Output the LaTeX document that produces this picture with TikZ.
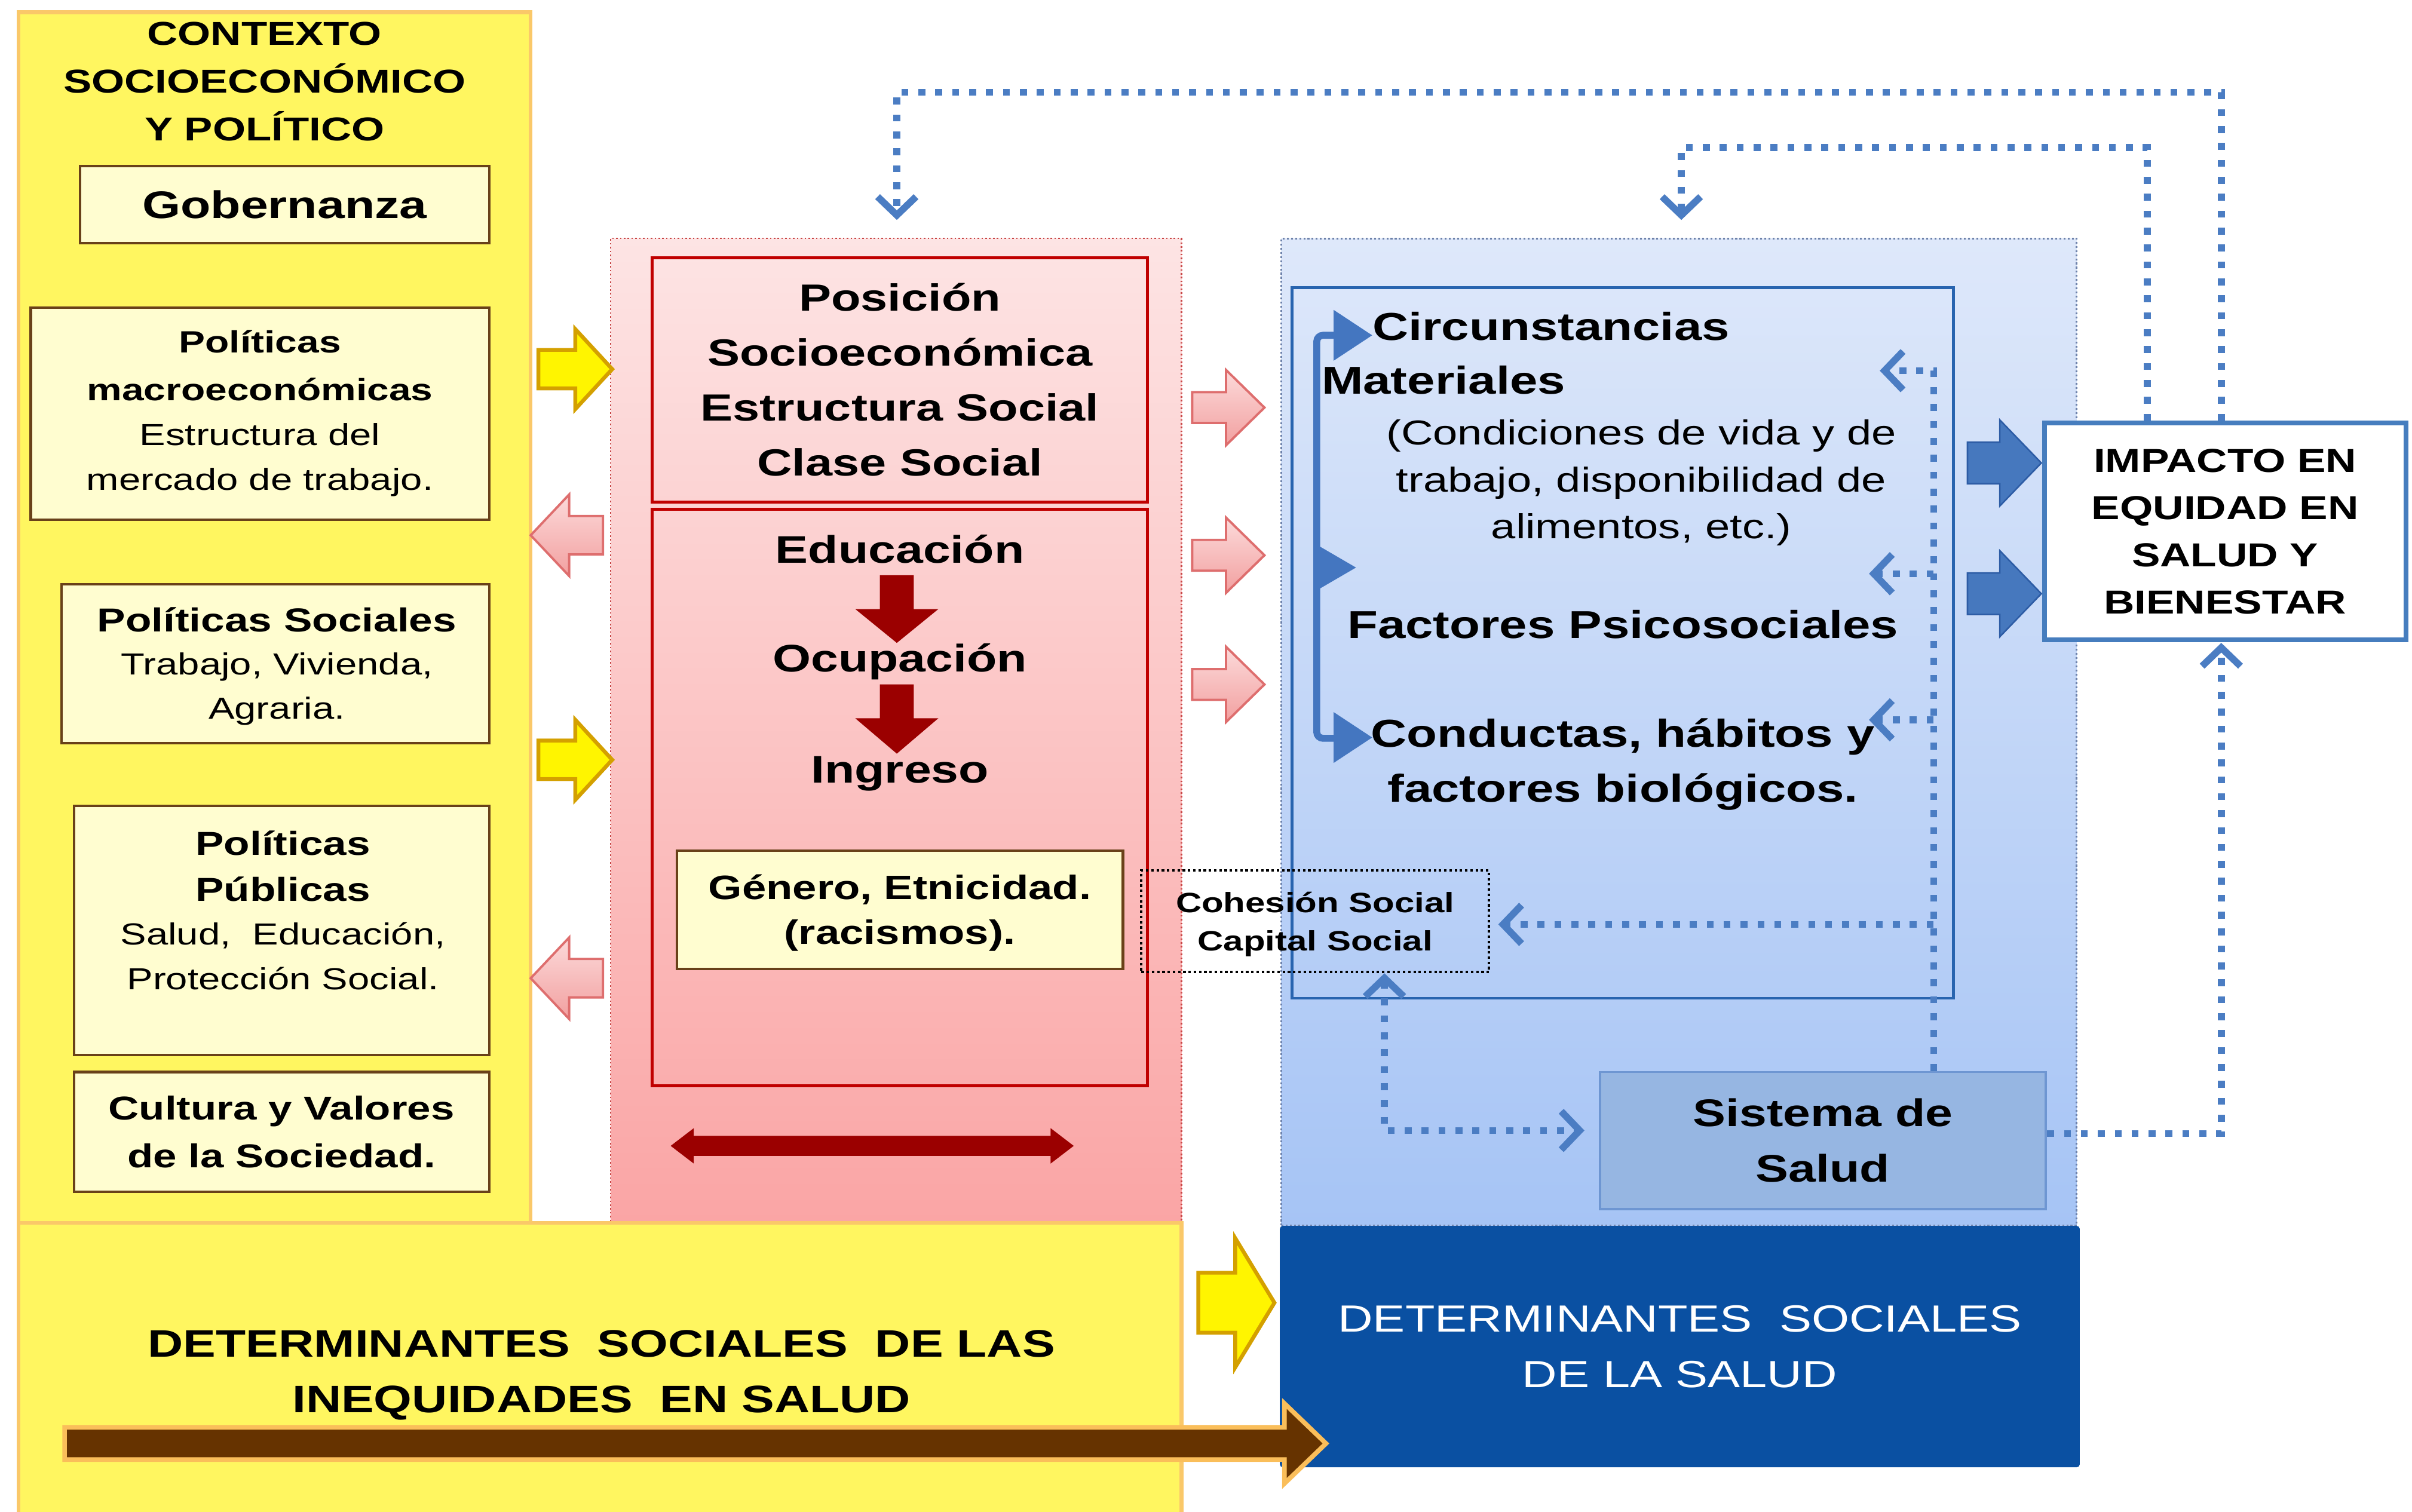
\documentclass[tikz,border=0pt]{standalone}
\usepackage{fontspec}
\setmainfont{Liberation Sans}[FakeStretch=1.28]
\usetikzlibrary{arrows.meta}
\definecolor{yfill}{RGB}{255,246,96}
\definecolor{yborder}{RGB}{250,200,105}
\definecolor{cream}{RGB}{255,253,208}
\definecolor{creamborder}{RGB}{105,65,25}
\definecolor{pinktop}{RGB}{253,228,228}
\definecolor{pinkbot}{RGB}{250,165,165}
\definecolor{pinkdot}{RGB}{200,70,70}
\definecolor{redborder}{RGB}{192,0,0}
\definecolor{darkred}{RGB}{155,0,0}
\definecolor{parrowtop}{RGB}{252,218,218}
\definecolor{parrowbot}{RGB}{242,160,160}
\definecolor{parrowline}{RGB}{222,110,110}
\definecolor{yarrowfill}{RGB}{255,245,0}
\definecolor{yarrowline}{RGB}{212,160,0}
\definecolor{bluetop}{RGB}{222,232,250}
\definecolor{bluebot}{RGB}{166,196,245}
\definecolor{bluedot}{RGB}{110,130,170}
\definecolor{innerblue}{RGB}{40,100,175}
\definecolor{sisfill}{RGB}{150,182,226}
\definecolor{sisline}{RGB}{110,150,210}
\definecolor{impline}{RGB}{70,125,190}
\definecolor{dotblue}{RGB}{75,125,195}
\definecolor{brblue}{RGB}{68,118,192}
\definecolor{bigblue}{RGB}{70,120,190}
\definecolor{bigblueline}{RGB}{45,92,165}
\definecolor{darkblue}{RGB}{10,80,162}
\definecolor{brown}{RGB}{102,51,0}
\definecolor{brownline}{RGB}{250,190,90}
\newcommand{\fsz}[2]{\fontsize{#1pt}{#2pt}\selectfont}
\newcommand{\barrowH}[7]{\path[#1] ({#2},{#5-#6}) -- ({#3},{#5-#6}) -- ({#3},{#5-#7}) -- ({#4},{#5}) -- ({#3},{#5+#7}) -- ({#3},{#5+#6}) -- ({#2},{#5+#6}) -- cycle;}
\newcommand{\barrowV}[7]{\path[#1] ({#5-#6},{#2}) -- ({#5-#6},{#3}) -- ({#5-#7},{#3}) -- ({#5},{#4}) -- ({#5+#7},{#3}) -- ({#5+#6},{#3}) -- ({#5+#6},{#2}) -- cycle;}
\tikzset{
  dbarb/.tip={Straight Barb[length=12pt,width=25pt]},
  txt/.style={inner sep=0pt, align=center, text=black},
  crbox/.style={draw=creamborder, fill=cream, line width=1.6pt, inner sep=0pt, align=center},
  ybox/.style={draw=yborder, fill=yfill, line width=2.5pt, inner sep=0pt},
  pinkpanel/.style={top color=pinktop, bottom color=pinkbot, draw=pinkdot, line width=1pt, dash pattern=on 1pt off 1.5pt, inner sep=0pt},
  bluepanel/.style={top color=bluetop, bottom color=bluebot, draw=bluedot, line width=1.2pt, dash pattern=on 1.2pt off 1.5pt, inner sep=0pt},
  redbox/.style={draw=redborder, line width=2pt, inner sep=0pt, align=center},
  parrow/.style={top color=parrowtop, bottom color=parrowbot, draw=parrowline, line width=1.5pt},
  yarrow/.style={fill=yarrowfill, draw=yarrowline, line width=2.5pt},
  bbarrow/.style={fill=bigblue, draw=bigblueline, line width=1pt},
  brarrow/.style={fill=brown, draw=brownline, line width=3pt},
  dotl/.style={draw=dotblue, line width=4.5pt, dash pattern=on 4.5pt off 6.5pt, line cap=butt},
  brk/.style={draw=brblue, line width=4.5pt},
}
\begin{document}
\begin{tikzpicture}[x=1pt,y=-1pt]
\useasboundingbox (0,0) rectangle (1568,983);
\fill[white] (0,0) rectangle (1568,983);

% ---------- panels ----------
\node[ybox, minimum width=333pt, minimum height=787pt] (col) at (178.5,401.5) {};
\node[pinkpanel, minimum width=371pt, minimum height=640pt] (pp) at (582.5,475) {};
\node[bluepanel, minimum width=517pt, minimum height=642pt] (bp) at (1091.5,476) {};
\node[ybox, minimum width=756pt, minimum height=200pt] (band) at (390,895) {};
\node[fill=darkblue, rounded corners=2pt, minimum width=520pt, minimum height=157pt, inner sep=0pt, align=center, text=white, font=\fsz{24.6}{36}] (dsd) at (1092,875.5) {DETERMINANTES~~SOCIALES\\DE LA SALUD};

% ---------- left column ----------
\node[txt, font=\fsz{21.5}{31}\bfseries] (ctx) at (172,53) {CONTEXTO\\SOCIOECONÓMICO\\Y POLÍTICO};
\node[crbox, minimum width=266pt, minimum height=50pt, font=\fsz{25}{30}\bfseries] (gob) at (185,133) {Gobernanza};

\node[crbox, minimum width=298pt, minimum height=138pt] (macro) at (169,269) {};
\node[txt, font=\fsz{20}{31}\bfseries] (macroT) at (169,237.5) {Políticas\\macroeconómicas};
\node[txt, font=\fsz{19.8}{29}] (macroS) at (169,299) {Estructura del\\mercado de trabajo.};

\node[crbox, minimum width=278pt, minimum height=103pt] (soc) at (179,431.5) {};
\node[txt, font=\fsz{21.6}{30}\bfseries] (socT) at (180,403) {Políticas Sociales};
\node[txt, font=\fsz{19.8}{28.5}] (socS) at (180,448) {Trabajo, Vivienda,\\Agraria.};

\node[crbox, minimum width=270pt, minimum height=162pt] (pub) at (183,605) {};
\node[txt, font=\fsz{21.6}{30}\bfseries] (pubT) at (184,563) {Políticas\\Públicas};
\node[txt, font=\fsz{19.8}{29}] (pubS) at (184,621.5) {Salud,~~Educación,\\Protección Social.};

\node[crbox, minimum width=270pt, minimum height=78pt, font=\fsz{21.5}{31}\bfseries] (cult) at (183,736) {Cultura y Valores\\de la Sociedad.};

% ---------- pink panel ----------
\node[redbox, minimum width=322pt, minimum height=159pt, font=\fsz{24.6}{35.7}\bfseries] (pos) at (585,247) {Posición\\Socioeconómica\\Estructura Social\\Clase Social};
\node[redbox, minimum width=322pt, minimum height=375pt] (box2) at (585,518.5) {};
\barrowV{fill=darkred}{374}{396}{418}{583}{11}{27}
\barrowV{fill=darkred}{445}{467}{490}{583}{11}{27}
\node[txt, font=\fsz{25}{30}\bfseries] (edu) at (585,357) {Educación};
\node[txt, font=\fsz{25}{30}\bfseries] (ocu) at (585,430) {Ocupación};
\node[txt, font=\fsz{25}{30}\bfseries] (ing) at (585,503) {Ingreso};
\node[crbox, minimum width=290pt, minimum height=77pt] (gen) at (585,591.5) {};
\node[txt, font=\fsz{22}{29}\bfseries] (genT) at (585,593.5) {Género, Etnicidad.\\(racismos).};
\path[fill=darkred] (436,745) -- (451,733.5) -- (451,738.5) -- (683,738.5) -- (683,733.5) -- (698,745) -- (683,756.5) -- (683,751.5) -- (451,751.5) -- (451,756.5) -- cycle;

% ---------- block arrows between columns ----------
\barrowH{yarrow}{350}{374}{398}{240}{12.5}{26}
\barrowH{yarrow}{350}{374}{398}{494}{12.5}{26}
\barrowH{parrow}{392}{370}{345}{348}{12.5}{26.5}
\barrowH{parrow}{392}{370}{345}{636}{12.5}{26.5}
\barrowH{parrow}{775}{797}{822}{265}{10}{24.5}
\barrowH{parrow}{775}{797}{822}{361}{10}{24.5}
\barrowH{parrow}{775}{797}{822}{445}{10}{24.5}

% ---------- blue panel ----------
\node[draw=innerblue, line width=1.8pt, minimum width=430pt, minimum height=462pt, inner sep=0pt] (inb) at (1055,418) {};
\node[txt, anchor=west, font=\fsz{25.3}{30}\bfseries] (circ) at (892,212) {Circunstancias};
\node[txt, anchor=west, font=\fsz{25.3}{30}\bfseries] (mat) at (859,247) {Materiales};
\node[txt, font=\fsz{22.5}{30.5}] (cond) at (1067,314) {(Condiciones de vida y de\\trabajo, disponibilidad de\\alimentos, etc.)};
\node[txt, font=\fsz{25.3}{30}\bfseries] (psi) at (1055,406) {Factores Psicosociales};
\node[txt, font=\fsz{25.3}{36}\bfseries] (cdt) at (1055,497) {Conductas, hábitos y\\factores biológicos.};

% bracket
\coordinate (bt) at (868,218);
\coordinate (bb) at (868,480);
\draw[brk, rounded corners=4pt] (bt) -- (856,218) -- (856,480) -- (bb);
\fill[brblue] (867,201.5) -- (892,218) -- (867,234.5) -- cycle;
\fill[brblue] (854,353) -- (881.5,369) -- (854,385) -- cycle;
\fill[brblue] (867,463) -- (892,479.5) -- (867,496) -- cycle;

\node[draw=black, line width=1.6pt, dash pattern=on 1.6pt off 1.8pt, minimum width=226pt, minimum height=66pt, inner sep=0pt] (coh) at (855,599) {};
\node[txt, font=\fsz{18.2}{25}\bfseries] (cohT) at (855,601) {Cohesión Social\\Capital Social};

\node[fill=sisfill, draw=sisline, line width=1.5pt, minimum width=290pt, minimum height=89pt, inner sep=0pt, align=center, font=\fsz{25}{36}\bfseries] (sis) at (1185,741.5) {Sistema de\\Salud};

\node[fill=white, draw=impline, line width=3pt, minimum width=235pt, minimum height=141pt, inner sep=0pt, align=center, font=\fsz{21.6}{30.7}\bfseries] (imp) at (1446.5,345.5) {IMPACTO EN\\EQUIDAD EN\\SALUD Y\\BIENESTAR};

\barrowH{bbarrow}{1279}{1300}{1327}{301}{13.5}{28}
\barrowH{bbarrow}{1279}{1300}{1327}{386}{13.5}{28}

% ---------- dotted connectors ----------
\coordinate (vx) at (1257,0);
\coordinate (a1) at (1222,241);
\coordinate (a2) at (1215,373);
\coordinate (a3) at (1215,468);
\coordinate (a4) at (974,601);
\draw[dotl,-dbarb] (vx |- sis.north) |- (a1);
\draw[dotl,-dbarb] (vx |- a2) -- (a2);
\draw[dotl,-dbarb] (vx |- a3) -- (a3);
\draw[dotl,-dbarb] (vx |- a4) -- (a4);
\coordinate (cx) at (900,0);
\coordinate (sw) at (1030,735);
\draw[dotl,dbarb-dbarb] (cx |- coh.south) |- (sw);
\coordinate (ixa) at (1444,0);
\coordinate (ixb) at (1396,0);
\coordinate (ta) at (583,60);
\coordinate (ea) at (583,143);
\coordinate (tb) at (1093,96);
\coordinate (eb) at (1093,143);
\coordinate (se) at (1444,418);
\coordinate (sy) at (0,737);
\draw[dotl,-dbarb] (sis.east |- sy) -| (se);
\draw[dotl,-dbarb] (ixa |- imp.north) -- (ixa |- ta) -- (ta) -- (ea);
\draw[dotl,-dbarb] (ixb |- imp.north) -- (ixb |- tb) -- (tb) -- (eb);

% ---------- bottom ----------
\node[txt, font=\fsz{24.9}{36}\bfseries] (bandT) at (391,894) {DETERMINANTES~~SOCIALES~~DE LAS\\INEQUIDADES~~EN SALUD};
\barrowH{yarrow}{779}{803}{828.5}{847}{19.5}{42}
\barrowH{brarrow}{42}{835}{862}{938.5}{10.5}{26}
\end{tikzpicture}
\end{document}
